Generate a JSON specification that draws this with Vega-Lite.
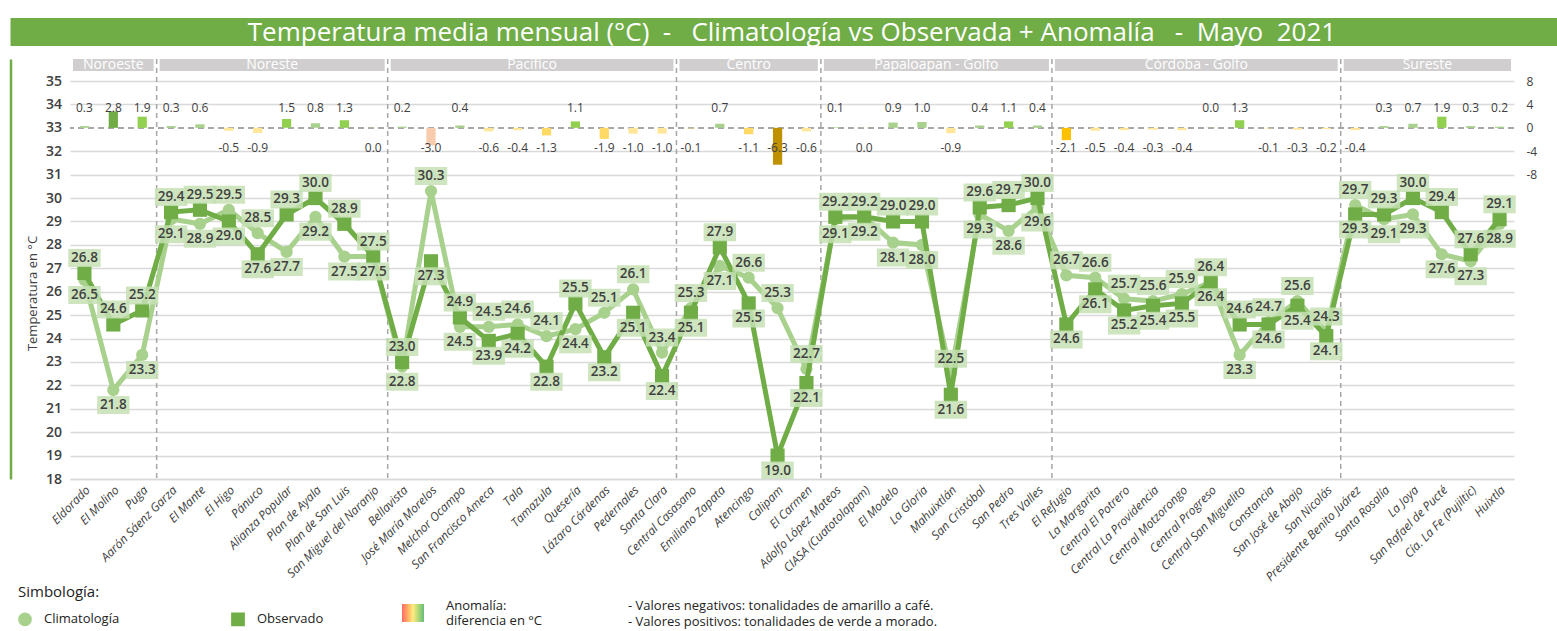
{
  "$schema": "https://vega.github.io/schema/vega-lite/v6.json",
  "padding": {"left": 10, "top": 18, "right": 0, "bottom": 0},
  "background": "white",
  "config": {
    "font": "Open Sans",
    "view": {"stroke": null},
    "locale": {"number": {"decimal": ".", "thousands": ",", "grouping": [3], "currency": ["$", ""], "minus": "-"}}
  },
  "datasets": {
    "st": [
      {"station": "Eldorado", "region": "Noroeste", "clim": 26.5, "obs": 26.8, "anom": 0.3},
      {"station": "El Molino", "region": "Noroeste", "clim": 21.8, "obs": 24.6, "anom": 2.8},
      {"station": "Puga", "region": "Noroeste", "clim": 23.3, "obs": 25.2, "anom": 1.9},
      {"station": "Aarón Sáenz Garza", "region": "Noreste", "clim": 29.1, "obs": 29.4, "anom": 0.3},
      {"station": "El Mante", "region": "Noreste", "clim": 28.9, "obs": 29.5, "anom": 0.6},
      {"station": "El Higo", "region": "Noreste", "clim": 29.5, "obs": 29.0, "anom": -0.5},
      {"station": "Pánuco", "region": "Noreste", "clim": 28.5, "obs": 27.6, "anom": -0.9},
      {"station": "Alianza Popular", "region": "Noreste", "clim": 27.7, "obs": 29.3, "anom": 1.5},
      {"station": "Plan de Ayala", "region": "Noreste", "clim": 29.2, "obs": 30.0, "anom": 0.8},
      {"station": "Plan de San Luis", "region": "Noreste", "clim": 27.5, "obs": 28.9, "anom": 1.3},
      {"station": "San Miguel del Naranjo", "region": "Noreste", "clim": 27.5, "obs": 27.5, "anom": -0.04},
      {"station": "Bellavista", "region": "Pacífico", "clim": 22.8, "obs": 23.0, "anom": 0.2},
      {"station": "José María Morelos", "region": "Pacífico", "clim": 30.3, "obs": 27.3, "anom": -3.0},
      {"station": "Melchor Ocampo", "region": "Pacífico", "clim": 24.5, "obs": 24.9, "anom": 0.4},
      {"station": "San Francisco Ameca", "region": "Pacífico", "clim": 24.5, "obs": 23.9, "anom": -0.6},
      {"station": "Tala", "region": "Pacífico", "clim": 24.6, "obs": 24.2, "anom": -0.4},
      {"station": "Tamazula", "region": "Pacífico", "clim": 24.1, "obs": 22.8, "anom": -1.3},
      {"station": "Quesería", "region": "Pacífico", "clim": 24.4, "obs": 25.5, "anom": 1.1},
      {"station": "Lázaro Cárdenas", "region": "Pacífico", "clim": 25.1, "obs": 23.2, "anom": -1.9},
      {"station": "Pedernales", "region": "Pacífico", "clim": 26.1, "obs": 25.1, "anom": -1.0},
      {"station": "Santa Clara", "region": "Pacífico", "clim": 23.4, "obs": 22.4, "anom": -1.0},
      {"station": "Central Casasano", "region": "Centro", "clim": 25.3, "obs": 25.1, "anom": -0.1},
      {"station": "Emiliano Zapata", "region": "Centro", "clim": 27.1, "obs": 27.9, "anom": 0.7},
      {"station": "Atencingo", "region": "Centro", "clim": 26.6, "obs": 25.5, "anom": -1.1},
      {"station": "Calipam", "region": "Centro", "clim": 25.3, "obs": 19.0, "anom": -6.3},
      {"station": "El Carmen", "region": "Centro", "clim": 22.7, "obs": 22.1, "anom": -0.6},
      {"station": "Adolfo López Mateos", "region": "Papaloapan - Golfo", "clim": 29.1, "obs": 29.2, "anom": 0.1},
      {"station": "CIASA (Cuatotolapam)", "region": "Papaloapan - Golfo", "clim": 29.2, "obs": 29.2, "anom": -0.04},
      {"station": "El Modelo", "region": "Papaloapan - Golfo", "clim": 28.1, "obs": 29.0, "anom": 0.9},
      {"station": "La Gloria", "region": "Papaloapan - Golfo", "clim": 28.0, "obs": 29.0, "anom": 1.0},
      {"station": "Mahuixtlán", "region": "Papaloapan - Golfo", "clim": 22.5, "obs": 21.6, "anom": -0.9},
      {"station": "San Cristóbal", "region": "Papaloapan - Golfo", "clim": 29.3, "obs": 29.6, "anom": 0.4},
      {"station": "San Pedro", "region": "Papaloapan - Golfo", "clim": 28.6, "obs": 29.7, "anom": 1.1},
      {"station": "Tres Valles", "region": "Papaloapan - Golfo", "clim": 29.6, "obs": 30.0, "anom": 0.4},
      {"station": "El Refugio", "region": "Córdoba - Golfo", "clim": 26.7, "obs": 24.6, "anom": -2.1},
      {"station": "La Margarita", "region": "Córdoba - Golfo", "clim": 26.6, "obs": 26.1, "anom": -0.5},
      {"station": "Central El Potrero", "region": "Córdoba - Golfo", "clim": 25.7, "obs": 25.2, "anom": -0.4},
      {"station": "Central La Providencia", "region": "Córdoba - Golfo", "clim": 25.6, "obs": 25.4, "anom": -0.3},
      {"station": "Central Motzorongo", "region": "Córdoba - Golfo", "clim": 25.9, "obs": 25.5, "anom": -0.4},
      {"station": "Central Progreso", "region": "Córdoba - Golfo", "clim": 26.4, "obs": 26.4, "anom": 0.04},
      {"station": "Central San Miguelito", "region": "Córdoba - Golfo", "clim": 23.3, "obs": 24.6, "anom": 1.3},
      {"station": "Constancia", "region": "Córdoba - Golfo", "clim": 24.7, "obs": 24.6, "anom": -0.1},
      {"station": "San José de Abajo", "region": "Córdoba - Golfo", "clim": 25.6, "obs": 25.4, "anom": -0.3},
      {"station": "San Nicolás", "region": "Córdoba - Golfo", "clim": 24.3, "obs": 24.1, "anom": -0.2},
      {"station": "Presidente Benito Juárez", "region": "Sureste", "clim": 29.7, "obs": 29.3, "anom": -0.4},
      {"station": "Santa Rosalía", "region": "Sureste", "clim": 29.1, "obs": 29.3, "anom": 0.3},
      {"station": "La Joya", "region": "Sureste", "clim": 29.3, "obs": 30.0, "anom": 0.7},
      {"station": "San Rafael de Pucté", "region": "Sureste", "clim": 27.6, "obs": 29.4, "anom": 1.9},
      {"station": "Cía. La Fe (Pujiltic)", "region": "Sureste", "clim": 27.3, "obs": 27.6, "anom": 0.3},
      {"station": "Huixtla", "region": "Sureste", "clim": 28.9, "obs": 29.1, "anom": 0.2}
    ],
    "reg": [
      {"region": "Noroeste", "first": "Eldorado", "last": "Puga", "mid": "El Molino", "n": 3},
      {"region": "Noreste", "first": "Aarón Sáenz Garza", "last": "San Miguel del Naranjo", "mid": "Alianza Popular", "n": 8},
      {"region": "Pacífico", "first": "Bellavista", "last": "Santa Clara", "mid": "Tamazula", "n": 10},
      {"region": "Centro", "first": "Central Casasano", "last": "El Carmen", "mid": "Atencingo", "n": 5},
      {"region": "Papaloapan - Golfo", "first": "Adolfo López Mateos", "last": "Tres Valles", "mid": "Mahuixtlán", "n": 8},
      {"region": "Córdoba - Golfo", "first": "El Refugio", "last": "San Nicolás", "mid": "Central Progreso", "n": 10},
      {"region": "Sureste", "first": "Presidente Benito Juárez", "last": "Huixtla", "mid": "San Rafael de Pucté", "n": 6}
    ]
  },
  "concat": [
    {
      "width": 1444,
      "height": 28,
      "data": {"values": [{"t": "Temperatura media mensual (°C)\u00a0\u00a0-\u00a0\u00a0\u00a0Climatología vs Observada + Anomalía\u00a0\u00a0\u00a0-\u00a0\u00a0Mayo\u00a0\u00a02021", "a": 0, "b": 1}]},
      "layer": [
        {
          "mark": {"type": "rect", "color": "#70ad47", "xOffset": -59.5, "x2Offset": 45},
          "encoding": {
            "x": {"field": "a", "type": "quantitative", "scale": {"domain": [0, 1], "nice": false, "zero": false}, "axis": null},
            "x2": {"field": "b"}
          }
        },
        {
          "mark": {"type": "text", "color": "white", "fontSize": 26, "align": "center", "baseline": "middle", "yOffset": 1},
          "encoding": {"text": {"field": "t"}}
        }
      ]
    },
    {
      "width": 1444,
      "height": 420,
      "data": {"name": "st"},
      "layer": [
        {
          "layer": [
            {
              "data": {"name": "reg"},
              "mark": {"type": "rect", "color": "#d0cece", "xOffset": 3, "x2Offset": -3},
              "encoding": {
                "x": {
                  "field": "first", "type": "nominal", "sort": null, "bandPosition": 0,
                  "scale": {"type": "band", "paddingInner": 0, "paddingOuter": 0,
                    "domain": ["Eldorado","El Molino","Puga","Aarón Sáenz Garza","El Mante","El Higo","Pánuco","Alianza Popular","Plan de Ayala","Plan de San Luis","San Miguel del Naranjo","Bellavista","José María Morelos","Melchor Ocampo","San Francisco Ameca","Tala","Tamazula","Quesería","Lázaro Cárdenas","Pedernales","Santa Clara","Central Casasano","Emiliano Zapata","Atencingo","Calipam","El Carmen","Adolfo López Mateos","CIASA (Cuatotolapam)","El Modelo","La Gloria","Mahuixtlán","San Cristóbal","San Pedro","Tres Valles","El Refugio","La Margarita","Central El Potrero","Central La Providencia","Central Motzorongo","Central Progreso","Central San Miguelito","Constancia","San José de Abajo","San Nicolás","Presidente Benito Juárez","Santa Rosalía","La Joya","San Rafael de Pucté","Cía. La Fe (Pujiltic)","Huixtla"]},
                  "axis": {"title": null, "labelAngle": -45, "labelFontSize": 12, "labelFontStyle": "italic", "labelColor": "#404040", "ticks": false, "domainColor": "#d9d9d9", "domainWidth": 1.5, "labelPadding": 5, "labelLimit": 300, "grid": false}
                },
                "x2": {"field": "last", "bandPosition": 1},
                "y": {
                  "datum": 35.94, "type": "quantitative",
                  "scale": {"domain": [18, 35.94], "nice": false, "zero": false},
                  "axis": {
                    "values": [18,19,20,21,22,23,24,25,26,27,28,29,30,31,32,33,34,35],
                    "tickCount": 18,
                    "title": "Temperatura en °C", "orient": "left", "offset": 59.5,
                    "domain": true, "domainColor": "#70ad47", "domainWidth": 2.5,
                    "ticks": false, "tickSize": 0, "labelPadding": -51, "labelAlign": "right",
                    "labelOverlap": false, "labelFlush": false, "labelBound": false,
                    "labelFontSize": 14, "labelColor": "#404040", "labelFontWeight": 600,
                    "titleFontSize": 13, "titleFontWeight": "normal", "titleColor": "#404040",
                    "titleX": 22, "titleY": 234, "titleAngle": -90, "titleAlign": "center", "titleBaseline": "middle",
                    "grid": true,
                    "gridColor": {"condition": {"test": "datum.value == 33", "value": "transparent"}, "value": "#d9d9d9"},
                    "gridWidth": 1.5
                  }
                },
                "y2": {"datum": 35.43}
              }
            },
            {
              "data": {"name": "reg"},
              "transform": [{"filter": "datum.n % 2 == 1"}],
              "mark": {"type": "text", "color": "white", "fontSize": 14, "letterSpacing": 1, "baseline": "middle", "align": "center"},
              "encoding": {
                "x": {"field": "mid", "type": "nominal", "sort": null, "bandPosition": 0.5},
                "y": {"datum": 35.68, "type": "quantitative"},
                "text": {"field": "region"}
              }
            },
            {
              "data": {"name": "reg"},
              "transform": [{"filter": "datum.n % 2 == 0"}],
              "mark": {"type": "text", "color": "white", "fontSize": 14, "letterSpacing": 1, "baseline": "middle", "align": "center"},
              "encoding": {
                "x": {"field": "mid", "type": "nominal", "sort": null, "bandPosition": 0},
                "y": {"datum": 35.68, "type": "quantitative"},
                "text": {"field": "region"}
              }
            },
            {
              "data": {"name": "reg"},
              "transform": [{"filter": "datum.region != 'Noroeste'"}],
              "mark": {"type": "rule", "color": "#a6a6a6", "strokeDash": [5, 4], "strokeWidth": 1.5},
              "encoding": {
                "x": {"field": "first", "type": "nominal", "sort": null, "bandPosition": 0}
              }
            },
            {
              "mark": {"type": "line", "strokeWidth": 5},
              "encoding": {
                "x": {"field": "station", "type": "nominal", "sort": null},
                "y": {"field": "clim", "type": "quantitative"},
                "color": {
                  "datum": "Climatología", "title": "Simbología:",
                  "scale": {"domain": ["Climatología", "Observado"], "range": ["#a9d18e", "#70ad47"]},
                  "legend": {"orient": "none", "legendX": -52, "legendY": 526, "direction": "horizontal", "titleFontSize": 15, "titleFontWeight": 500, "titleColor": "#222222", "labelFontSize": 13, "labelColor": "#222222", "symbolSize": 150, "columnPadding": 108, "labelOffset": 12, "titlePadding": 12}
                }
              }
            },
            {
              "mark": {"type": "point", "filled": true, "size": 150, "opacity": 1},
              "encoding": {
                "x": {"field": "station", "type": "nominal", "sort": null},
                "y": {"field": "clim", "type": "quantitative"},
                "color": {"datum": "Climatología", "title": "Simbología:"},
                "shape": {
                  "datum": "Climatología", "title": "Simbología:",
                  "scale": {"domain": ["Climatología", "Observado"], "range": ["circle", "square"]},
                  "legend": {"orient": "none", "legendX": -52, "legendY": 526, "direction": "horizontal", "titleFontSize": 15, "titleFontWeight": 500, "titleColor": "#222222", "labelFontSize": 13, "labelColor": "#222222", "symbolSize": 150, "columnPadding": 108, "labelOffset": 12, "titlePadding": 12}
                }
              }
            },
            {
              "mark": {"type": "line", "strokeWidth": 5},
              "encoding": {
                "x": {"field": "station", "type": "nominal", "sort": null},
                "y": {"field": "obs", "type": "quantitative"},
                "color": {"datum": "Observado", "title": "Simbología:"}
              }
            },
            {
              "mark": {"type": "point", "filled": true, "size": 200, "opacity": 1},
              "encoding": {
                "x": {"field": "station", "type": "nominal", "sort": null},
                "y": {"field": "obs", "type": "quantitative"},
                "color": {"datum": "Observado", "title": "Simbología:"},
                "shape": {"datum": "Observado", "title": "Simbología:"}
              }
            },
            {
              "transform": [{"filter": "datum.clim > datum.obs"}],
              "mark": {"type": "point", "shape": "M-1.8,-1H1.8V1H-1.8Z", "size": 324, "filled": true, "color": "#c5e0b4", "opacity": 0.85, "yOffset": -15},
              "encoding": {"x": {"field": "station", "type": "nominal", "sort": null}, "y": {"field": "clim", "type": "quantitative"}}
            },
            {
              "transform": [{"filter": "datum.clim <= datum.obs"}],
              "mark": {"type": "point", "shape": "M-1.8,-1H1.8V1H-1.8Z", "size": 324, "filled": true, "color": "#c5e0b4", "opacity": 0.85, "yOffset": 15},
              "encoding": {"x": {"field": "station", "type": "nominal", "sort": null}, "y": {"field": "clim", "type": "quantitative"}}
            },
            {
              "transform": [{"filter": "datum.obs >= datum.clim"}],
              "mark": {"type": "point", "shape": "M-1.8,-1H1.8V1H-1.8Z", "size": 324, "filled": true, "color": "#c5e0b4", "opacity": 0.85, "yOffset": -15},
              "encoding": {"x": {"field": "station", "type": "nominal", "sort": null}, "y": {"field": "obs", "type": "quantitative"}}
            },
            {
              "transform": [{"filter": "datum.obs < datum.clim"}],
              "mark": {"type": "point", "shape": "M-1.8,-1H1.8V1H-1.8Z", "size": 324, "filled": true, "color": "#c5e0b4", "opacity": 0.85, "yOffset": 15},
              "encoding": {"x": {"field": "station", "type": "nominal", "sort": null}, "y": {"field": "obs", "type": "quantitative"}}
            },
            {
              "transform": [{"filter": "datum.clim > datum.obs"}],
              "mark": {"type": "text", "fontSize": 13.5, "fontWeight": 600, "color": "#404040", "baseline": "middle", "yOffset": -15},
              "encoding": {"x": {"field": "station", "type": "nominal", "sort": null}, "y": {"field": "clim", "type": "quantitative"}, "text": {"field": "clim", "type": "quantitative", "format": ".1f"}}
            },
            {
              "transform": [{"filter": "datum.clim <= datum.obs"}],
              "mark": {"type": "text", "fontSize": 13.5, "fontWeight": 600, "color": "#404040", "baseline": "middle", "yOffset": 15},
              "encoding": {"x": {"field": "station", "type": "nominal", "sort": null}, "y": {"field": "clim", "type": "quantitative"}, "text": {"field": "clim", "type": "quantitative", "format": ".1f"}}
            },
            {
              "transform": [{"filter": "datum.obs >= datum.clim"}],
              "mark": {"type": "text", "fontSize": 13.5, "fontWeight": 600, "color": "#404040", "baseline": "middle", "yOffset": -15},
              "encoding": {"x": {"field": "station", "type": "nominal", "sort": null}, "y": {"field": "obs", "type": "quantitative"}, "text": {"field": "obs", "type": "quantitative", "format": ".1f"}}
            },
            {
              "transform": [{"filter": "datum.obs < datum.clim"}],
              "mark": {"type": "text", "fontSize": 13.5, "fontWeight": 600, "color": "#404040", "baseline": "middle", "yOffset": 15},
              "encoding": {"x": {"field": "station", "type": "nominal", "sort": null}, "y": {"field": "obs", "type": "quantitative"}, "text": {"field": "obs", "type": "quantitative", "format": ".1f"}}
            }
          ]
        },
        {
          "layer": [
            {
              "mark": {"type": "rule", "color": "#a6a6a6", "strokeWidth": 1.5},
              "encoding": {
                "y": {"datum": 0, "type": "quantitative"},
                "strokeDash": {
                  "datum": "- Valores negativos: tonalidades de amarillo a café.",
                  "scale": {"domain": ["- Valores negativos: tonalidades de amarillo a café.", "- Valores positivos: tonalidades de verde a morado."], "range": [[6, 4], [6, 4]]},
                  "legend": {"title": null, "orient": "none", "legendX": 545, "legendY": 540, "direction": "vertical", "symbolOpacity": 0, "symbolSize": 0, "symbolStrokeWidth": 0, "symbolType": "stroke", "labelOffset": 0, "labelFontSize": 13, "labelColor": "#222222", "labelLimit": 600, "rowPadding": 2}
                }
              }
            },
            {
              "mark": {"type": "bar", "width": {"band": 0.32}, "strokeWidth": 0},
              "encoding": {
                "x": {"field": "station", "type": "nominal", "sort": null},
                "y": {
                  "field": "anom", "type": "quantitative",
                  "scale": {"domain": [-60, 11.76], "nice": false, "zero": false},
                  "axis": {"orient": "right", "values": [-8, -4, 0, 4, 8], "title": null, "grid": false, "domain": false, "ticks": false, "labelPadding": 12, "labelFontSize": 12, "labelColor": "#404040", "labelAlign": "left", "labelOverlap": false}
                },
                "fill": {
                  "field": "anom", "type": "quantitative",
                  "scale": {"type": "threshold", "domain": [-5, -2.5, -2, -1.05, 0, 1.05, 2.5], "range": ["#bf9000", "#f8cbad", "#ffc000", "#ffd966", "#ffe699", "#a9d18e", "#92d050", "#70ad47"]},
                  "legend": null
                },
                "stroke": {
                  "field": "anom", "type": "quantitative",
                  "scale": {"domain": [-3, 0, 3], "range": ["#f8696b", "#ffeb84", "#63be7b"]},
                  "legend": {"title": ["Anomalía:", "diferencia en °C"], "orient": "none", "legendX": 332, "legendY": 545, "direction": "horizontal", "gradientLength": 22, "gradientThickness": 18, "titleOrient": "right", "titleFontSize": 13, "titleFontWeight": "normal", "titleColor": "#222222", "titlePadding": 22, "labelExpr": "''", "gradientStrokeWidth": 0}
                }
              }
            },
            {
              "transform": [{"filter": "datum.anom >= 0"}],
              "mark": {"type": "text", "fontSize": 12, "color": "#404040", "baseline": "middle"},
              "encoding": {
                "x": {"field": "station", "type": "nominal", "sort": null},
                "y": {"datum": 3.4, "type": "quantitative"},
                "text": {"field": "anom", "type": "quantitative", "format": ".1f"}
              }
            },
            {
              "transform": [{"filter": "datum.anom < 0"}],
              "mark": {"type": "text", "fontSize": 12, "color": "#404040", "baseline": "middle"},
              "encoding": {
                "x": {"field": "station", "type": "nominal", "sort": null},
                "y": {"datum": -3.4, "type": "quantitative"},
                "text": {"field": "anom", "type": "quantitative", "format": ".1f"}
              }
            }
          ]
        }
      ],
      "resolve": {"scale": {"y": "independent"}, "axis": {"y": "independent"}}
    }
  ],
  "columns": 1,
  "spacing": 12,
  "resolve": {"scale": {"color": "independent", "shape": "independent", "stroke": "independent", "strokeDash": "independent", "fill": "independent"}}
}
